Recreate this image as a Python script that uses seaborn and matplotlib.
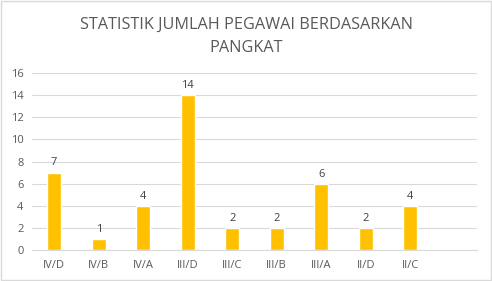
import matplotlib
matplotlib.use("Agg")
import matplotlib.pyplot as plt
import seaborn as sns
import pandas as pd
from matplotlib.patches import Rectangle

categories = ["IV/D", "IV/B", "IV/A", "III/D", "III/C", "III/B", "III/A", "II/D", "II/C"]
values = [7, 1, 4, 14, 2, 2, 6, 2, 4]
yticks = [0, 2, 4, 6, 8, 10, 12, 14, 16]
title = "STATISTIK JUMLAH PEGAWAI BERDASARKAN\nPANGKAT"

sns.set_theme(style="white")
plt.rcParams["font.family"] = ["Open Sans", "DejaVu Sans"]

df = pd.DataFrame({"cat": categories, "val": values})

fig = plt.figure(figsize=(4.92, 2.81), dpi=100)
ax = fig.add_axes([0.065, 0.110, 0.9045, 0.630])
sns.barplot(data=df, x="cat", y="val", color="#FFC000", saturation=1, width=0.31, ax=ax)

ax.set_xlim(-0.5, 9.5)
ax.set_ylim(0, 16)
ax.set_yticks(yticks)
ax.yaxis.grid(True, color="#d9d9d9", linewidth=0.8)
ax.set_axisbelow(True)
for s in ["top", "right", "left"]:
    ax.spines[s].set_visible(False)
ax.spines["bottom"].set_color("#d9d9d9")
ax.spines["bottom"].set_linewidth(0.8)
ax.set_xlabel("")
ax.set_ylabel("")
ax.tick_params(axis="both", length=0, labelsize=8, colors="#595959", pad=6)
ax.tick_params(axis="x", pad=7)

for c in ax.containers:
    ax.bar_label(c, labels=[str(v) for v in values], padding=3, fontsize=8, color="#404040")

fig.text(0.5, 0.87, title, ha="center", va="center", fontsize=11.7, color="#595959", linespacing=1.55)

fig.patches.append(Rectangle((0.002, 0.003), 0.995, 0.993, transform=fig.transFigure,
                             fill=False, edgecolor="#d9d9d9", linewidth=1))

fig.savefig("out.png", dpi=100)
